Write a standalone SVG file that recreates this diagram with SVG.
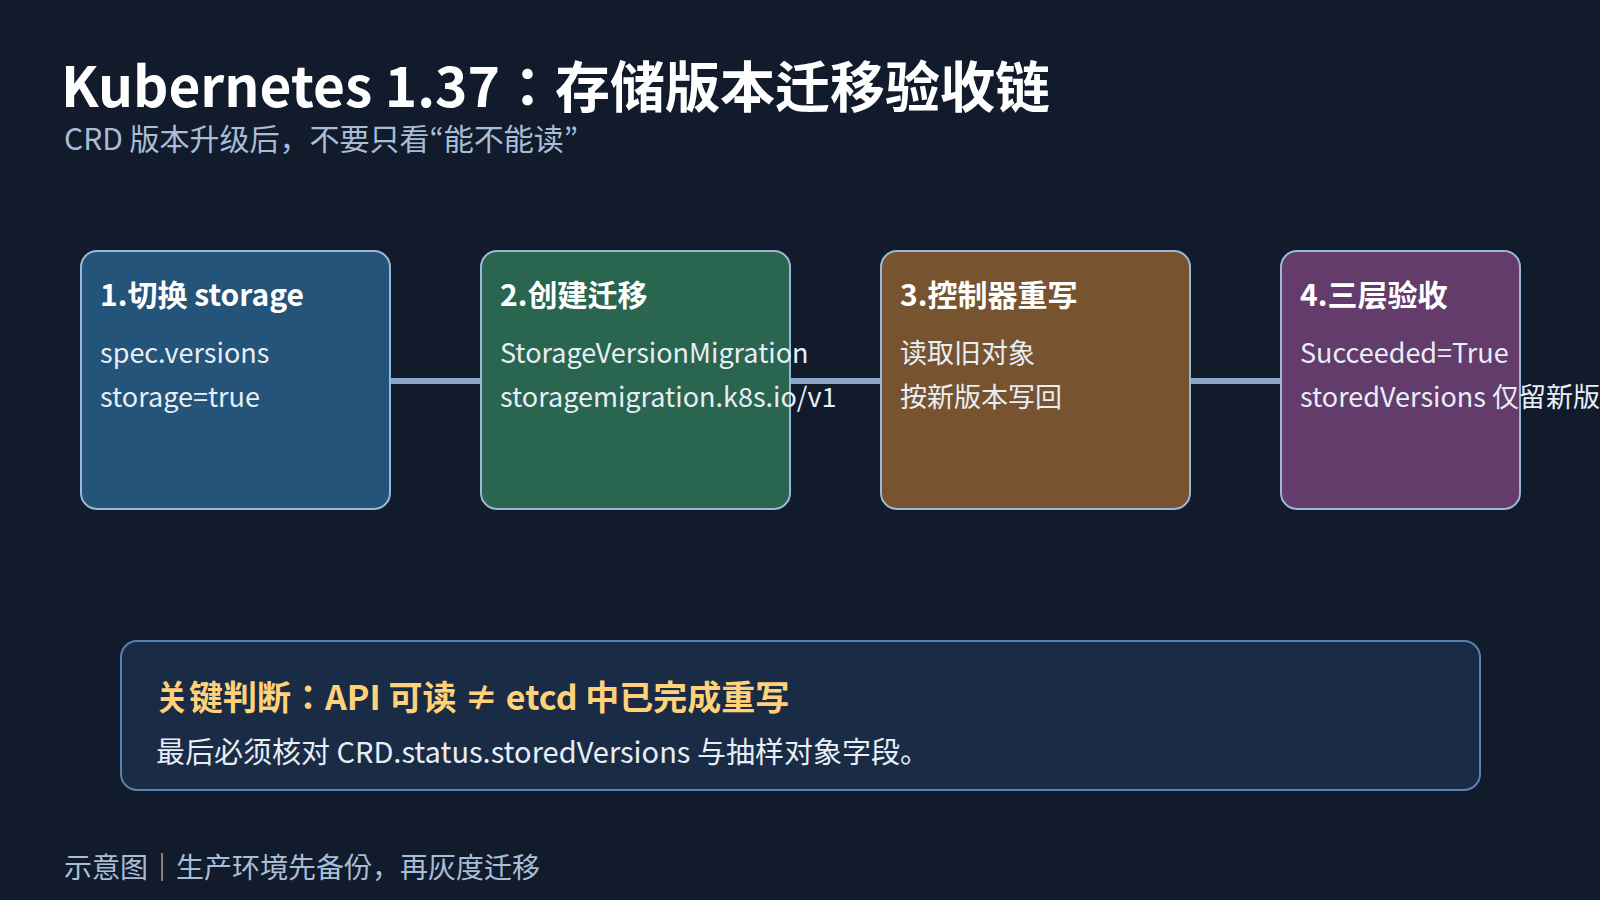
<svg xmlns="http://www.w3.org/2000/svg" width="1600" height="900" viewBox="0 0 1600 900">
<style>
text{font-family:"Noto Sans CJK JP","Noto Sans CJK SC",sans-serif}
.title{font-size:55px;font-weight:700;fill:#ffffff}
.sub{font-size:30px;fill:#a9bdd6}
.box{stroke:#9bb7d6;stroke-width:2}
.nt{font-size:30px;font-weight:700;fill:#ffffff}
.nb{font-size:27px;fill:#e8eef6}
.conn{stroke:#8aa5c6;stroke-width:6}
.panel{fill:#1a2b45;stroke:#5b81ad;stroke-width:2}
.ph{font-size:34px;font-weight:700;fill:#ffd27a}
.pb{font-size:29px;fill:#e8eef6}
.foot{font-size:28px;fill:#a9bdd6}
</style>
<rect width="1600" height="900" fill="#111b2b"/>
<text class="title" x="61" y="107">Kubernetes 1.37：存储版本迁移验收链</text>
<text class="sub" x="64" y="150">CRD 版本升级后，不要只看“能不能读”</text>
<g id="connectors">
<line class="conn" x1="390" y1="381" x2="480" y2="381"/>
<line class="conn" x1="790" y1="381" x2="880" y2="381"/>
<line class="conn" x1="1190" y1="381" x2="1280" y2="381"/>
</g>
<g id="node1">
<rect class="box" x="81" y="251" width="309" height="258" rx="16" fill="#24547a"/>
<text class="nt" x="100" y="306">1.切换 storage</text>
<text class="nb" x="100" y="363">spec.versions</text>
<text class="nb" x="100" y="407">storage=true</text>
</g>
<g id="node2">
<rect class="box" x="481" y="251" width="309" height="258" rx="16" fill="#29654f"/>
<text class="nt" x="500" y="306">2.创建迁移</text>
<text class="nb" x="500" y="363">StorageVersionMigration</text>
<text class="nb" x="500" y="407">storagemigration.k8s.io/v1</text>
</g>
<g id="node3">
<rect class="box" x="881" y="251" width="309" height="258" rx="16" fill="#77542f"/>
<text class="nt" x="900" y="306">3.控制器重写</text>
<text class="nb" x="900" y="363">读取旧对象</text>
<text class="nb" x="900" y="407">按新版本写回</text>
</g>
<g id="node4">
<rect class="box" x="1281" y="251" width="239" height="258" rx="16" fill="#633c6b"/>
<text class="nt" x="1300" y="306">4.三层验收</text>
<text class="nb" x="1300" y="363">Succeeded=True</text>
<text class="nb" x="1300" y="407">storedVersions 仅留新版</text>
</g>
<g id="panel">
<rect class="panel" x="121" y="641" width="1359" height="149" rx="16"/>
<text class="ph" x="155" y="710">关键判断：API 可读 ≠ etcd 中已完成重写</text>
<text class="pb" x="156" y="763">最后必须核对 CRD.status.storedVersions 与抽样对象字段。</text>
</g>
<text class="foot" x="64" y="878">示意图｜生产环境先备份，再灰度迁移</text>
</svg>
